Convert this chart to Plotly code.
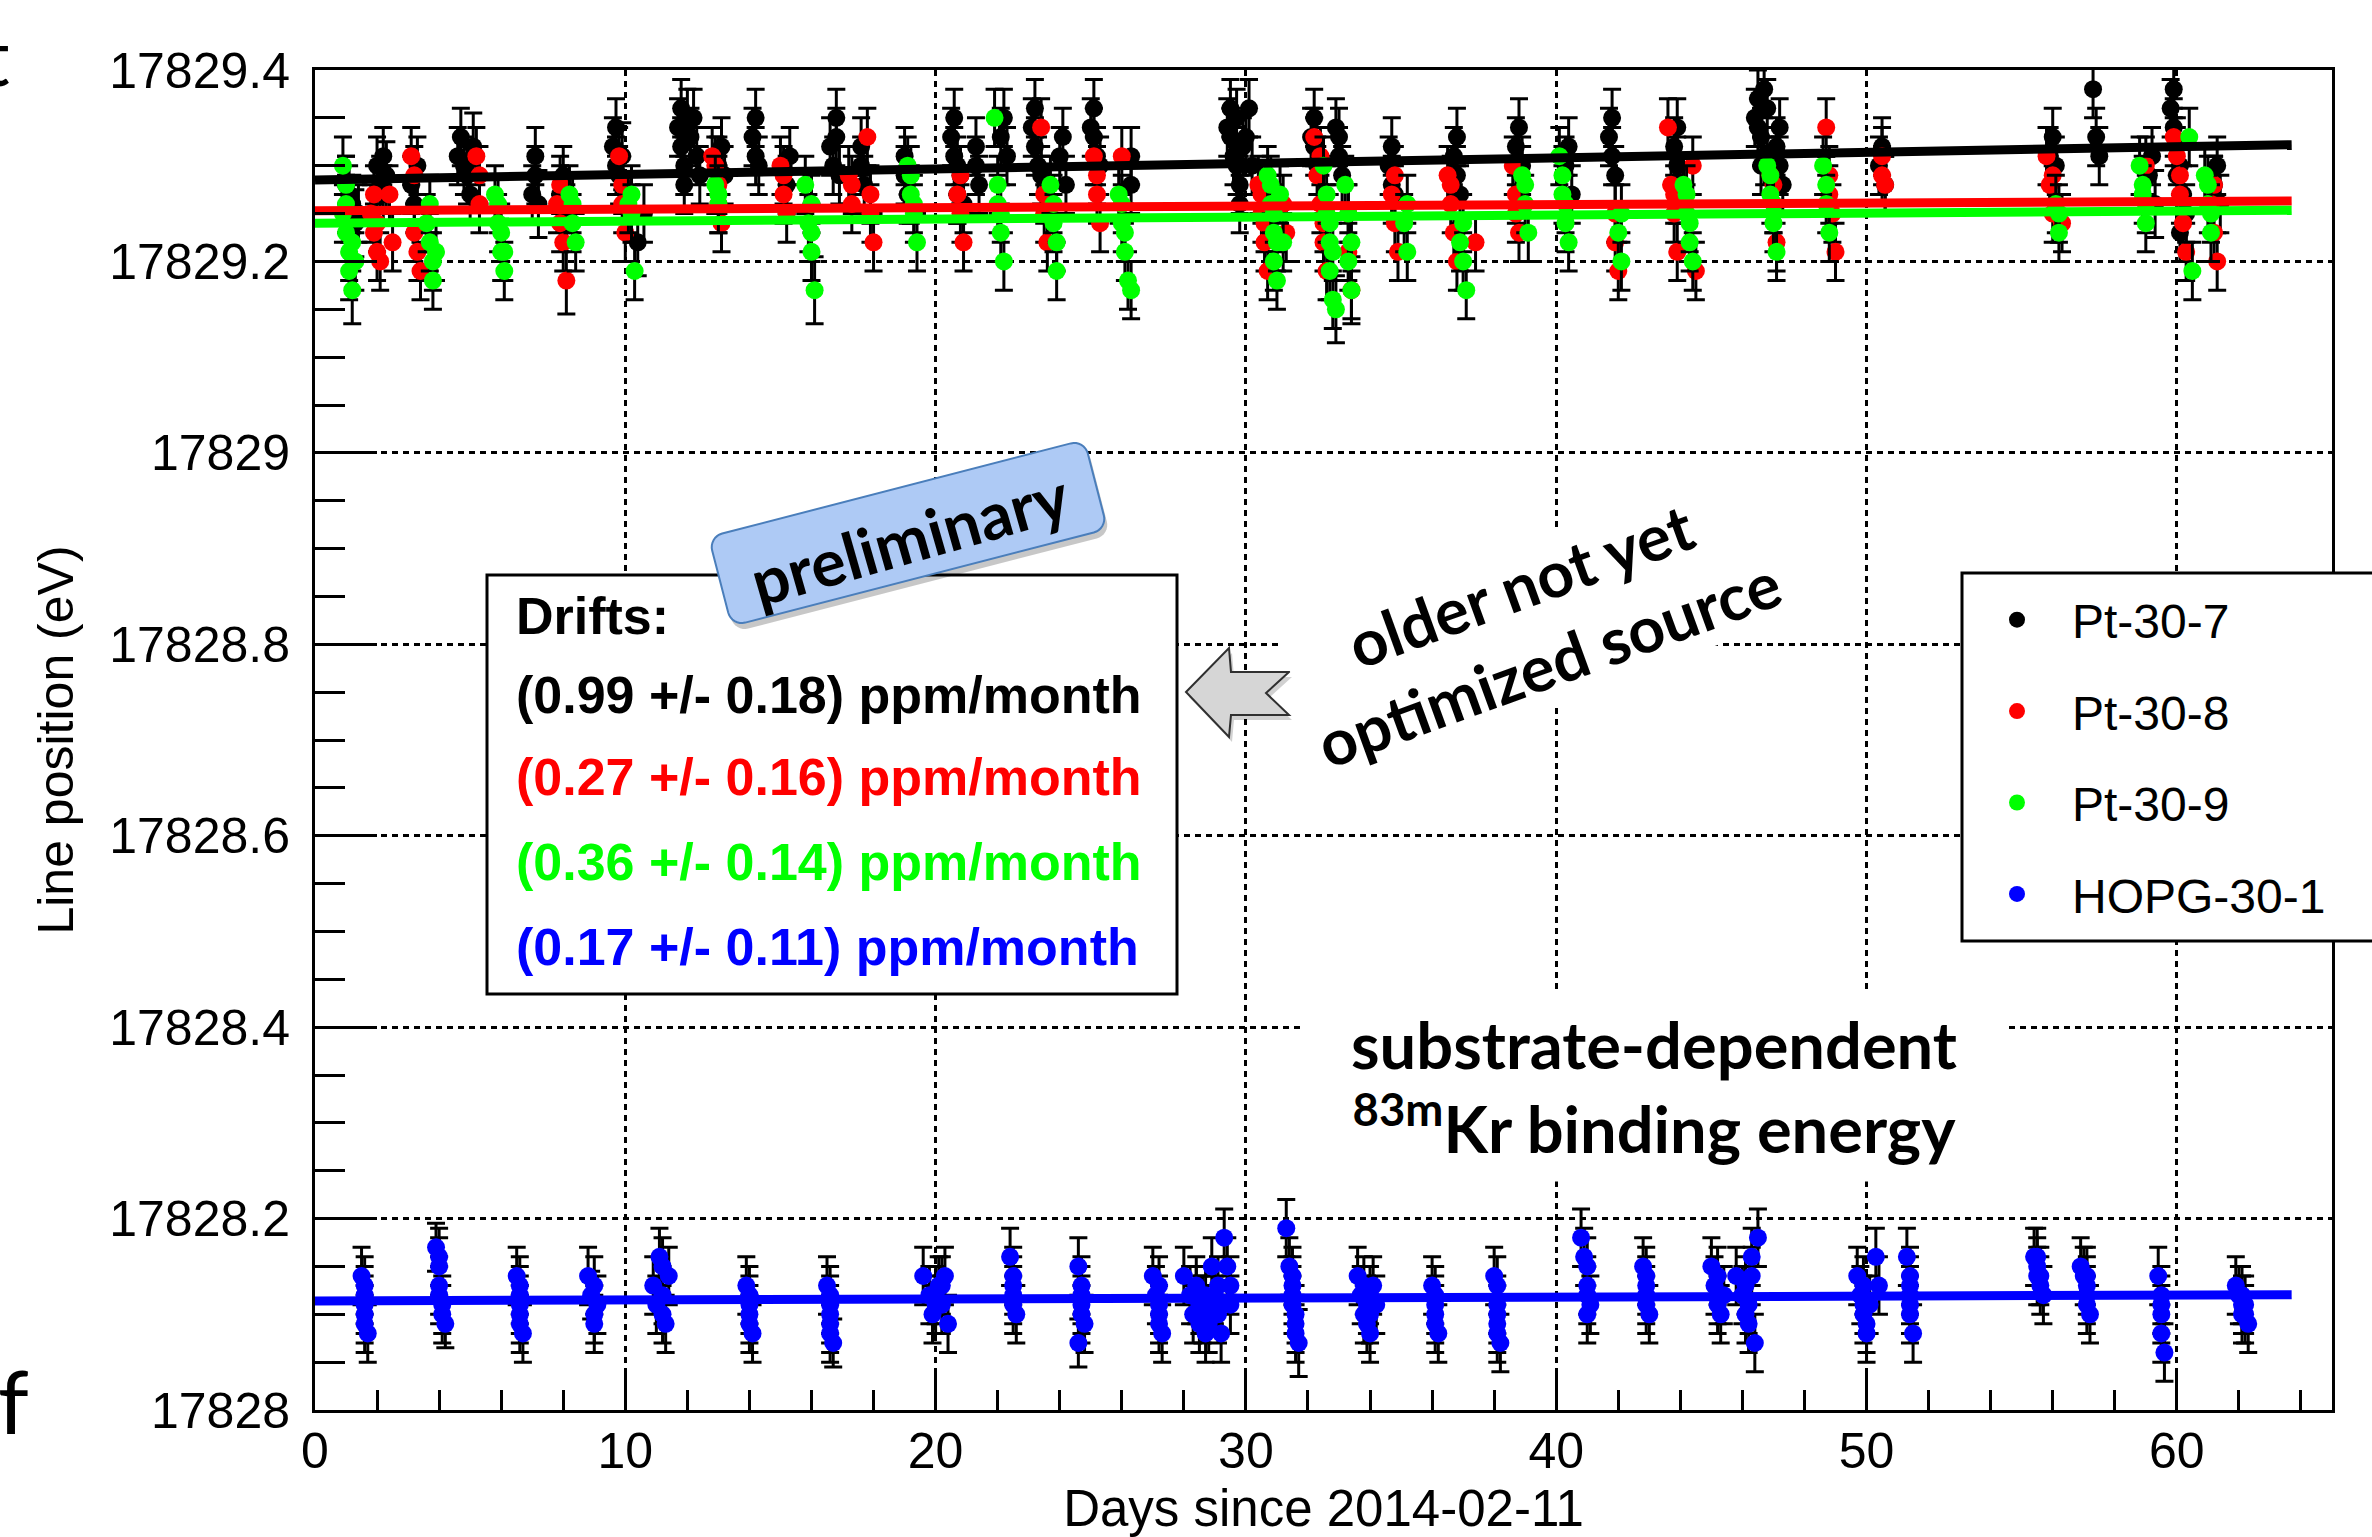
import math
import plotly.graph_objects as go

# ------------------------------------------------------------------ data
x_tickvals = [0, 10, 20, 30, 40, 50, 60]
y_tickvals = [17828.0, 17828.2, 17828.4, 17828.6, 17828.8, 17829.0, 17829.2, 17829.4]
y_ticktext = ["17828", "17828.2", "17828.4", "17828.6", "17828.8", "17829", "17829.2", "17829.4"]

series_names = ["Pt-30-7", "Pt-30-8", "Pt-30-9", "HOPG-30-1"]
series_colors = ["#000000", "#ff0000", "#00ff00", "#0000ff"]

# linear fits: value at day 0 and drift (ppm / month)
fit_intercept = [17829.285, 17829.253, 17829.240, 17828.114]
drift_ppm_month = [0.99, 0.27, 0.36, 0.17]
drift_err = [0.18, 0.16, 0.14, 0.11]
fit_days = [0.0, 63.7]

# (day, line position [eV], error [eV])
pt_30_7 = [
    (1.0, 17829.28, 0.03), (1.1, 17829.27, 0.03), (1.2, 17829.26, 0.03), (1.3, 17829.24, 0.035), (1.4, 17829.25, 0.03),
    (2.0, 17829.30, 0.03), (2.1, 17829.28, 0.03), (2.2, 17829.27, 0.03), (2.2, 17829.31, 0.03), (2.3, 17829.29, 0.035),
    (3.1, 17829.28, 0.03), (3.2, 17829.26, 0.03), (3.3, 17829.30, 0.03),
    (4.6, 17829.31, 0.03), (4.7, 17829.33, 0.03), (4.8, 17829.30, 0.03), (4.9, 17829.29, 0.03), (5.0, 17829.27, 0.03), (5.1, 17829.32, 0.035),
    (7.0, 17829.27, 0.03), (7.1, 17829.29, 0.03), (7.1, 17829.31, 0.03), (7.2, 17829.26, 0.035),
    (7.9, 17829.27, 0.03), (8.0, 17829.29, 0.03), (8.1, 17829.25, 0.03), (8.2, 17829.26, 0.03),
    (9.6, 17829.32, 0.03), (9.7, 17829.30, 0.03), (9.7, 17829.34, 0.03), (9.8, 17829.29, 0.03), (9.9, 17829.31, 0.035),
    (10.4, 17829.22, 0.035), (10.6, 17829.25, 0.03),
    (11.7, 17829.34, 0.03), (11.8, 17829.32, 0.03), (11.8, 17829.36, 0.03), (11.9, 17829.30, 0.03), (11.9, 17829.28, 0.03),
    (12.0, 17829.35, 0.03), (12.1, 17829.33, 0.03), (12.2, 17829.35, 0.03),
    (12.3, 17829.31, 0.03), (12.4, 17829.29, 0.03),
    (13.0, 17829.30, 0.03), (13.1, 17829.32, 0.03), (13.2, 17829.29, 0.03),
    (14.1, 17829.33, 0.03), (14.2, 17829.31, 0.03), (14.2, 17829.35, 0.03), (14.3, 17829.30, 0.03),
    (15.2, 17829.28, 0.03), (15.3, 17829.31, 0.03),
    (16.6, 17829.32, 0.03), (16.7, 17829.30, 0.03), (16.8, 17829.33, 0.03), (16.8, 17829.35, 0.03), (16.9, 17829.29, 0.03),
    (17.6, 17829.30, 0.03), (17.6, 17829.32, 0.03), (17.7, 17829.28, 0.03),
    (19.0, 17829.29, 0.03), (19.0, 17829.31, 0.03), (19.1, 17829.27, 0.03),
    (20.5, 17829.33, 0.03), (20.6, 17829.31, 0.03), (20.6, 17829.35, 0.03), (20.7, 17829.30, 0.03), (20.7, 17829.27, 0.03),
    (20.8, 17829.29, 0.03), (20.9, 17829.26, 0.03),
    (21.3, 17829.30, 0.03), (21.3, 17829.32, 0.03), (21.4, 17829.28, 0.03),
    (22.1, 17829.33, 0.03), (22.2, 17829.35, 0.03), (22.3, 17829.31, 0.03),
    (23.1, 17829.34, 0.03), (23.2, 17829.32, 0.03), (23.2, 17829.36, 0.03), (23.3, 17829.30, 0.03), (23.4, 17829.29, 0.03),
    (24.0, 17829.31, 0.03), (24.1, 17829.33, 0.03), (24.2, 17829.28, 0.03),
    (25.0, 17829.34, 0.03), (25.1, 17829.33, 0.03), (25.1, 17829.36, 0.03), (25.2, 17829.31, 0.03), (25.3, 17829.30, 0.03),
    (26.3, 17829.28, 0.03), (26.3, 17829.31, 0.03),
    (29.4, 17829.34, 0.03), (29.5, 17829.33, 0.03), (29.5, 17829.36, 0.03), (29.6, 17829.31, 0.03), (29.7, 17829.30, 0.03),
    (29.7, 17829.35, 0.03), (29.8, 17829.28, 0.03), (29.8, 17829.26, 0.03), (29.9, 17829.32, 0.03),
    (30.0, 17829.33, 0.03), (30.1, 17829.36, 0.03), (30.2, 17829.30, 0.03),
    (32.1, 17829.33, 0.03), (32.2, 17829.32, 0.03), (32.2, 17829.35, 0.03), (32.3, 17829.30, 0.03),
    (32.9, 17829.34, 0.03), (33.0, 17829.31, 0.03), (33.0, 17829.33, 0.03), (33.1, 17829.29, 0.03),
    (34.6, 17829.30, 0.03), (34.7, 17829.28, 0.03), (34.7, 17829.32, 0.03), (34.8, 17829.27, 0.03),
    (36.7, 17829.31, 0.03), (36.8, 17829.29, 0.03), (36.8, 17829.33, 0.03), (36.9, 17829.27, 0.03),
    (38.7, 17829.32, 0.03), (38.8, 17829.34, 0.03), (38.9, 17829.30, 0.03),
    (40.3, 17829.30, 0.03), (40.4, 17829.32, 0.03), (40.5, 17829.27, 0.03),
    (41.7, 17829.33, 0.03), (41.8, 17829.31, 0.03), (41.8, 17829.35, 0.03), (41.9, 17829.29, 0.03),
    (43.8, 17829.32, 0.03), (43.9, 17829.30, 0.03), (43.9, 17829.34, 0.03), (44.0, 17829.28, 0.03), (44.1, 17829.27, 0.03),
    (46.4, 17829.35, 0.03), (46.5, 17829.34, 0.03), (46.5, 17829.37, 0.03), (46.6, 17829.33, 0.03), (46.6, 17829.30, 0.03),
    (46.7, 17829.31, 0.03), (46.7, 17829.38, 0.03), (46.8, 17829.36, 0.03),
    (47.1, 17829.32, 0.03), (47.2, 17829.30, 0.03), (47.2, 17829.34, 0.03), (47.3, 17829.28, 0.03),
    (50.4, 17829.30, 0.03), (50.5, 17829.32, 0.03), (50.6, 17829.28, 0.03),
    (55.9, 17829.31, 0.03), (56.0, 17829.33, 0.03), (56.1, 17829.30, 0.03),
    (57.3, 17829.38, 0.03), (57.4, 17829.33, 0.03), (57.5, 17829.31, 0.03),
    (59.1, 17829.29, 0.03), (59.2, 17829.31, 0.03), (59.3, 17829.26, 0.035),
    (59.8, 17829.36, 0.03), (59.9, 17829.34, 0.03), (59.9, 17829.38, 0.03), (60.0, 17829.32, 0.03), (60.0, 17829.29, 0.03),
    (60.1, 17829.30, 0.03), (60.1, 17829.23, 0.03), (60.2, 17829.27, 0.03), (60.3, 17829.25, 0.03),
    (61.2, 17829.28, 0.03), (61.3, 17829.30, 0.03), (61.4, 17829.26, 0.03),
]

pt_30_8 = [
    (1.8, 17829.25, 0.03), (1.9, 17829.23, 0.03), (1.9, 17829.27, 0.03), (2.0, 17829.21, 0.03), (2.0, 17829.24, 0.03), (2.1, 17829.20, 0.03),
    (2.4, 17829.27, 0.03), (2.5, 17829.22, 0.03),
    (3.1, 17829.31, 0.03), (3.2, 17829.29, 0.03), (3.2, 17829.23, 0.03), (3.3, 17829.21, 0.03), (3.4, 17829.19, 0.03),
    (5.2, 17829.31, 0.03), (5.3, 17829.26, 0.03), (5.3, 17829.29, 0.03),
    (7.8, 17829.26, 0.03), (7.9, 17829.24, 0.03), (7.9, 17829.28, 0.03), (8.0, 17829.22, 0.03), (8.1, 17829.18, 0.035),
    (9.8, 17829.31, 0.03), (9.9, 17829.26, 0.03), (9.9, 17829.28, 0.03), (10.0, 17829.23, 0.03),
    (12.8, 17829.31, 0.03), (12.9, 17829.30, 0.03), (13.0, 17829.26, 0.03), (13.0, 17829.28, 0.03), (13.1, 17829.24, 0.03),
    (15.0, 17829.30, 0.03), (15.1, 17829.27, 0.03), (15.1, 17829.29, 0.03), (15.2, 17829.25, 0.03),
    (17.2, 17829.29, 0.03), (17.3, 17829.26, 0.03), (17.3, 17829.28, 0.03),
    (17.8, 17829.33, 0.03), (17.9, 17829.25, 0.03), (17.9, 17829.27, 0.03), (18.0, 17829.22, 0.03),
    (20.7, 17829.27, 0.03), (20.8, 17829.25, 0.03), (20.8, 17829.29, 0.03), (20.9, 17829.22, 0.03),
    (23.4, 17829.34, 0.03), (23.5, 17829.27, 0.03), (23.5, 17829.25, 0.03), (23.6, 17829.22, 0.03),
    (25.1, 17829.31, 0.03), (25.2, 17829.27, 0.03), (25.2, 17829.29, 0.03), (25.3, 17829.24, 0.03),
    (26.0, 17829.31, 0.03),
    (30.4, 17829.28, 0.03), (30.5, 17829.25, 0.03), (30.5, 17829.27, 0.03), (30.6, 17829.22, 0.03), (30.6, 17829.24, 0.03), (30.7, 17829.19, 0.03),
    (31.2, 17829.26, 0.03), (31.3, 17829.23, 0.03),
    (32.2, 17829.33, 0.03), (32.3, 17829.29, 0.03), (32.4, 17829.26, 0.03), (32.4, 17829.31, 0.03), (32.5, 17829.22, 0.03),
    (32.5, 17829.24, 0.03), (32.6, 17829.19, 0.03),
    (33.3, 17829.25, 0.03), (33.3, 17829.21, 0.03), (33.4, 17829.17, 0.035),
    (34.7, 17829.27, 0.03), (34.8, 17829.24, 0.03), (34.8, 17829.29, 0.03), (34.9, 17829.21, 0.03),
    (36.5, 17829.29, 0.03), (36.6, 17829.26, 0.03), (36.6, 17829.28, 0.03), (36.7, 17829.23, 0.03), (36.8, 17829.20, 0.03),
    (37.4, 17829.22, 0.03),
    (38.6, 17829.30, 0.03), (38.7, 17829.27, 0.03), (38.7, 17829.25, 0.03), (38.8, 17829.23, 0.03),
    (41.9, 17829.22, 0.03), (41.9, 17829.25, 0.03), (42.0, 17829.19, 0.03),
    (43.6, 17829.34, 0.03), (43.7, 17829.28, 0.03), (43.8, 17829.25, 0.03), (43.8, 17829.27, 0.03), (43.9, 17829.21, 0.03),
    (44.4, 17829.30, 0.03), (44.5, 17829.19, 0.03),
    (46.9, 17829.29, 0.03), (47.0, 17829.26, 0.03), (47.0, 17829.28, 0.03), (47.1, 17829.22, 0.03),
    (48.7, 17829.34, 0.03), (48.8, 17829.29, 0.03), (48.8, 17829.27, 0.03), (48.9, 17829.25, 0.03), (49.0, 17829.21, 0.03),
    (50.5, 17829.31, 0.03), (50.5, 17829.29, 0.03), (50.6, 17829.28, 0.03),
    (55.8, 17829.31, 0.03), (55.9, 17829.28, 0.03), (56.0, 17829.25, 0.03), (56.0, 17829.29, 0.03),
    (56.3, 17829.24, 0.03),
    (59.0, 17829.30, 0.03),
    (59.9, 17829.33, 0.03), (60.0, 17829.31, 0.03), (60.1, 17829.27, 0.03), (60.1, 17829.29, 0.03), (60.2, 17829.24, 0.03), (60.3, 17829.21, 0.03),
    (61.1, 17829.26, 0.03), (61.2, 17829.23, 0.03), (61.2, 17829.28, 0.03), (61.3, 17829.20, 0.03),
]

pt_30_9 = [
    (0.9, 17829.30, 0.03), (0.9, 17829.25, 0.03), (1.0, 17829.26, 0.03), (1.0, 17829.28, 0.03), (1.0, 17829.23, 0.03),
    (1.1, 17829.21, 0.03), (1.1, 17829.19, 0.03), (1.2, 17829.17, 0.035), (1.2, 17829.22, 0.03), (1.3, 17829.20, 0.03),
    (3.6, 17829.24, 0.03), (3.7, 17829.22, 0.03), (3.7, 17829.26, 0.03), (3.8, 17829.20, 0.03), (3.8, 17829.18, 0.03), (3.9, 17829.21, 0.03),
    (5.8, 17829.27, 0.03), (5.9, 17829.24, 0.03), (5.9, 17829.26, 0.03), (6.0, 17829.21, 0.03), (6.0, 17829.23, 0.03),
    (6.1, 17829.19, 0.03), (6.1, 17829.21, 0.03),
    (8.2, 17829.27, 0.03), (8.3, 17829.24, 0.03), (8.3, 17829.26, 0.03), (8.4, 17829.22, 0.03),
    (10.1, 17829.26, 0.03), (10.2, 17829.25, 0.03), (10.2, 17829.27, 0.03), (10.3, 17829.19, 0.03),
    (12.9, 17829.28, 0.03), (13.0, 17829.26, 0.03), (13.0, 17829.27, 0.03),
    (15.8, 17829.28, 0.03), (15.9, 17829.24, 0.03), (16.0, 17829.21, 0.03), (16.0, 17829.26, 0.03), (16.0, 17829.23, 0.03), (16.1, 17829.17, 0.035),
    (19.1, 17829.30, 0.03), (19.2, 17829.27, 0.03), (19.2, 17829.29, 0.03), (19.3, 17829.25, 0.03), (19.3, 17829.26, 0.03), (19.4, 17829.22, 0.03),
    (21.9, 17829.35, 0.03), (22.0, 17829.28, 0.03), (22.0, 17829.26, 0.03), (22.1, 17829.25, 0.03), (22.1, 17829.23, 0.03), (22.2, 17829.20, 0.03),
    (23.7, 17829.28, 0.03), (23.8, 17829.24, 0.03), (23.8, 17829.26, 0.03), (23.9, 17829.19, 0.03), (23.9, 17829.22, 0.03),
    (25.9, 17829.27, 0.03), (26.0, 17829.24, 0.03), (26.0, 17829.26, 0.03), (26.1, 17829.21, 0.03), (26.1, 17829.23, 0.03),
    (26.2, 17829.18, 0.03), (26.3, 17829.17, 0.03),
    (30.7, 17829.29, 0.03), (30.8, 17829.26, 0.03), (30.8, 17829.28, 0.03), (30.9, 17829.23, 0.03), (30.9, 17829.25, 0.03),
    (30.9, 17829.20, 0.03), (31.0, 17829.18, 0.03), (31.0, 17829.22, 0.03),
    (31.1, 17829.27, 0.03), (31.2, 17829.22, 0.03),
    (32.5, 17829.30, 0.03), (32.6, 17829.25, 0.03), (32.6, 17829.27, 0.03), (32.7, 17829.22, 0.03), (32.7, 17829.24, 0.03),
    (32.7, 17829.19, 0.03), (32.8, 17829.16, 0.03), (32.8, 17829.21, 0.03), (32.9, 17829.15, 0.035),
    (33.2, 17829.28, 0.03), (33.3, 17829.20, 0.03), (33.3, 17829.25, 0.03), (33.4, 17829.17, 0.03), (33.4, 17829.22, 0.03),
    (35.1, 17829.24, 0.03), (35.2, 17829.21, 0.03), (35.2, 17829.26, 0.03),
    (36.9, 17829.22, 0.03), (37.0, 17829.20, 0.03), (37.0, 17829.24, 0.03), (37.1, 17829.17, 0.03),
    (38.9, 17829.29, 0.03), (39.0, 17829.26, 0.03), (39.0, 17829.28, 0.03), (39.1, 17829.23, 0.03),
    (40.1, 17829.31, 0.03), (40.2, 17829.27, 0.03), (40.2, 17829.29, 0.03), (40.3, 17829.24, 0.03), (40.3, 17829.26, 0.03), (40.4, 17829.22, 0.03),
    (42.0, 17829.23, 0.03), (42.1, 17829.20, 0.03), (42.1, 17829.25, 0.03),
    (44.1, 17829.28, 0.03), (44.2, 17829.25, 0.03), (44.2, 17829.27, 0.03), (44.3, 17829.22, 0.03), (44.3, 17829.24, 0.03), (44.4, 17829.20, 0.03),
    (46.8, 17829.30, 0.03), (46.9, 17829.27, 0.03), (46.9, 17829.29, 0.03), (47.0, 17829.24, 0.03), (47.0, 17829.26, 0.03), (47.1, 17829.21, 0.03),
    (48.6, 17829.30, 0.03), (48.7, 17829.26, 0.03), (48.7, 17829.28, 0.03), (48.8, 17829.23, 0.03),
    (56.1, 17829.26, 0.03), (56.2, 17829.23, 0.03), (56.2, 17829.25, 0.03),
    (58.8, 17829.30, 0.03), (58.9, 17829.27, 0.03), (58.9, 17829.28, 0.03), (59.0, 17829.24, 0.03), (59.0, 17829.26, 0.03),
    (60.4, 17829.33, 0.03), (60.5, 17829.19, 0.03),
    (60.9, 17829.29, 0.03), (61.0, 17829.26, 0.03), (61.0, 17829.28, 0.03), (61.1, 17829.23, 0.03), (61.1, 17829.25, 0.03),
]

hopg_30_1 = [
    (1.5, 17828.14, 0.03), (1.6, 17828.12, 0.03), (1.6, 17828.13, 0.03), (1.6, 17828.11, 0.03), (1.6, 17828.10, 0.03),
    (1.6, 17828.09, 0.03), (1.7, 17828.08, 0.03),
    (3.9, 17828.17, 0.025), (4.0, 17828.15, 0.03), (4.0, 17828.16, 0.03), (4.0, 17828.12, 0.03), (4.0, 17828.13, 0.03),
    (4.1, 17828.10, 0.03), (4.1, 17828.11, 0.03), (4.2, 17828.09, 0.025),
    (6.5, 17828.14, 0.03), (6.6, 17828.12, 0.03), (6.6, 17828.13, 0.03), (6.6, 17828.10, 0.03), (6.6, 17828.11, 0.03),
    (6.6, 17828.09, 0.03), (6.7, 17828.08, 0.03),
    (8.8, 17828.14, 0.03), (8.9, 17828.12, 0.025), (9.0, 17828.13, 0.03), (9.0, 17828.09, 0.03), (9.0, 17828.10, 0.03), (9.1, 17828.11, 0.03),
    (10.9, 17828.13, 0.03), (11.0, 17828.11, 0.03), (11.1, 17828.16, 0.03), (11.2, 17828.15, 0.03), (11.2, 17828.12, 0.03),
    (11.2, 17828.10, 0.03), (11.3, 17828.09, 0.03), (11.4, 17828.14, 0.03),
    (13.9, 17828.13, 0.03), (14.0, 17828.11, 0.03), (14.0, 17828.12, 0.03), (14.0, 17828.10, 0.03), (14.0, 17828.09, 0.03), (14.1, 17828.08, 0.03),
    (16.5, 17828.13, 0.03), (16.6, 17828.11, 0.03), (16.6, 17828.12, 0.03), (16.6, 17828.10, 0.03), (16.6, 17828.09, 0.03),
    (16.6, 17828.08, 0.03), (16.7, 17828.07, 0.025),
    (19.6, 17828.14, 0.03), (19.8, 17828.12, 0.03), (19.9, 17828.10, 0.03), (20.0, 17828.12, 0.03), (20.0, 17828.11, 0.03),
    (20.1, 17828.13, 0.03), (20.2, 17828.11, 0.03), (20.2, 17828.13, 0.03), (20.3, 17828.14, 0.03), (20.4, 17828.09, 0.03),
    (22.4, 17828.16, 0.03), (22.5, 17828.14, 0.03), (22.5, 17828.12, 0.03), (22.5, 17828.13, 0.03), (22.5, 17828.11, 0.03), (22.6, 17828.10, 0.03),
    (24.6, 17828.15, 0.03), (24.7, 17828.13, 0.03), (24.7, 17828.11, 0.03), (24.7, 17828.12, 0.03), (24.7, 17828.10, 0.03),
    (24.8, 17828.09, 0.03), (24.6, 17828.07, 0.025),
    (27.0, 17828.14, 0.03), (27.1, 17828.12, 0.03), (27.2, 17828.13, 0.03), (27.2, 17828.10, 0.03), (27.2, 17828.11, 0.03),
    (27.2, 17828.09, 0.03), (27.3, 17828.08, 0.03),
    (28.0, 17828.14, 0.03), (28.2, 17828.12, 0.03), (28.3, 17828.10, 0.03), (28.4, 17828.13, 0.03), (28.4, 17828.12, 0.03),
    (28.5, 17828.09, 0.03), (28.5, 17828.11, 0.03), (28.6, 17828.11, 0.03), (28.6, 17828.10, 0.03), (28.7, 17828.08, 0.03),
    (28.7, 17828.12, 0.03), (28.8, 17828.09, 0.03),
    (28.9, 17828.15, 0.03), (29.0, 17828.12, 0.03), (29.0, 17828.11, 0.03), (29.1, 17828.10, 0.03), (29.1, 17828.13, 0.03), (29.2, 17828.08, 0.03),
    (29.3, 17828.18, 0.03), (29.4, 17828.15, 0.03), (29.5, 17828.13, 0.03), (29.5, 17828.11, 0.03),
    (31.3, 17828.19, 0.03), (31.4, 17828.15, 0.03), (31.5, 17828.13, 0.03), (31.5, 17828.14, 0.03), (31.5, 17828.11, 0.03),
    (31.5, 17828.12, 0.03), (31.6, 17828.09, 0.03), (31.6, 17828.10, 0.03), (31.6, 17828.08, 0.03), (31.7, 17828.07, 0.035),
    (33.6, 17828.14, 0.03), (33.7, 17828.12, 0.03), (33.8, 17828.10, 0.03), (33.8, 17828.13, 0.03), (33.9, 17828.09, 0.03),
    (33.9, 17828.11, 0.03), (34.0, 17828.08, 0.03), (34.0, 17828.10, 0.03), (34.0, 17828.12, 0.03), (34.1, 17828.13, 0.03), (34.2, 17828.11, 0.03),
    (36.0, 17828.13, 0.03), (36.1, 17828.11, 0.03), (36.1, 17828.12, 0.03), (36.1, 17828.09, 0.03), (36.1, 17828.10, 0.03), (36.2, 17828.08, 0.03),
    (38.0, 17828.14, 0.03), (38.1, 17828.11, 0.03), (38.1, 17828.13, 0.03), (38.1, 17828.09, 0.03), (38.1, 17828.10, 0.03),
    (38.1, 17828.08, 0.03), (38.2, 17828.07, 0.03),
    (40.8, 17828.18, 0.03), (40.9, 17828.16, 0.03), (41.0, 17828.13, 0.03), (41.0, 17828.15, 0.03), (41.0, 17828.12, 0.03),
    (41.0, 17828.10, 0.03), (41.1, 17828.11, 0.03),
    (42.8, 17828.15, 0.03), (42.9, 17828.13, 0.03), (42.9, 17828.14, 0.03), (42.9, 17828.11, 0.03), (42.9, 17828.12, 0.03), (43.0, 17828.10, 0.03),
    (45.0, 17828.15, 0.03), (45.1, 17828.13, 0.03), (45.2, 17828.11, 0.03), (45.2, 17828.14, 0.03), (45.2, 17828.12, 0.03),
    (45.3, 17828.10, 0.03), (45.4, 17828.12, 0.03),
    (45.8, 17828.14, 0.03), (46.0, 17828.12, 0.03), (46.1, 17828.10, 0.03), (46.1, 17828.13, 0.03), (46.2, 17828.09, 0.03),
    (46.2, 17828.11, 0.03), (46.3, 17828.16, 0.03), (46.3, 17828.14, 0.03), (46.5, 17828.18, 0.03), (46.4, 17828.07, 0.03),
    (49.7, 17828.14, 0.03), (49.8, 17828.12, 0.03), (49.9, 17828.10, 0.03), (49.9, 17828.13, 0.03), (49.9, 17828.11, 0.03),
    (50.0, 17828.08, 0.03), (50.0, 17828.09, 0.03), (50.1, 17828.11, 0.03),
    (50.3, 17828.16, 0.03), (50.4, 17828.13, 0.03),
    (51.3, 17828.16, 0.03), (51.4, 17828.13, 0.03), (51.4, 17828.14, 0.03), (51.4, 17828.12, 0.03), (51.4, 17828.11, 0.03),
    (51.4, 17828.10, 0.03), (51.5, 17828.08, 0.03),
    (55.4, 17828.16, 0.03), (55.5, 17828.15, 0.03), (55.5, 17828.16, 0.03), (55.5, 17828.14, 0.03), (55.6, 17828.13, 0.03),
    (55.6, 17828.14, 0.03), (55.7, 17828.12, 0.03),
    (56.9, 17828.15, 0.03), (57.0, 17828.14, 0.03), (57.1, 17828.13, 0.03), (57.1, 17828.14, 0.03), (57.1, 17828.12, 0.03),
    (57.1, 17828.11, 0.03), (57.2, 17828.10, 0.03),
    (59.4, 17828.14, 0.03), (59.5, 17828.12, 0.03), (59.5, 17828.11, 0.03), (59.5, 17828.10, 0.03), (59.5, 17828.08, 0.03), (59.6, 17828.06, 0.03),
    (61.9, 17828.13, 0.03), (62.0, 17828.12, 0.03), (62.1, 17828.11, 0.03), (62.1, 17828.12, 0.03), (62.1, 17828.10, 0.03),
    (62.2, 17828.10, 0.03), (62.2, 17828.11, 0.03), (62.3, 17828.09, 0.03),
]

all_series = [pt_30_7, pt_30_8, pt_30_9, hopg_30_1]

# ------------------------------------------------------------------ layout helpers (reference pixel -> paper)
W, H = 2372, 1537
X0, X1, Y0, Y1 = 315, 2332, 70, 1410


def px(x):
    return (x - X0) / (X1 - X0)


def py(y):
    return (Y1 - y) / (Y1 - Y0)


def path_from_pixels(points):
    return "M " + " L ".join(f"{px(x):.5f},{py(y):.5f}" for x, y in points) + " Z"


def rounded_rotated_rect(cx, cy, w, h, r, ang_deg, n=8):
    a = math.radians(ang_deg)
    ux, uy = math.cos(a), -math.sin(a)
    vx, vy = math.sin(a), math.cos(a)
    hw, hh = w / 2 - r, h / 2 - r
    corners = [(hw, -hh, -90), (hw, hh, 0), (-hw, hh, 90), (-hw, -hh, 180)]
    pts = []
    for ccx, ccy, t0 in corners:
        for k in range(n + 1):
            t = math.radians(t0 + 90 * k / n)
            lx = ccx + r * math.cos(t)
            ly = ccy + r * math.sin(t)
            pts.append((cx + lx * ux + ly * vx, cy + lx * uy + ly * vy))
    return pts


AXFONT = "Liberation Sans, Arial, Helvetica, sans-serif"
CALFONT = "Lato, Open Sans, sans-serif"

fig = go.Figure()

# data points with error bars
for name, color, data in zip(series_names, series_colors, all_series):
    fig.add_trace(go.Scatter(
        x=[d[0] for d in data],
        y=[d[1] for d in data],
        error_y=dict(type="data", array=[d[2] for d in data], color="black", thickness=3, width=9),
        mode="markers",
        marker=dict(color=color, size=18),
        name=name,
        legendgroup=name,
    ))

# fit lines
for name, color, a, drift in zip(series_names, series_colors, fit_intercept, drift_ppm_month):
    slope = drift * 1e-6 * a / 30.44  # eV per day
    fig.add_trace(go.Scatter(
        x=fit_days,
        y=[a + slope * t for t in fit_days],
        mode="lines",
        line=dict(color=color, width=9),
        showlegend=False,
        hoverinfo="skip",
    ))

# ------------------------------------------------------------------ shapes
shapes = []
# legend frame (runs off the right edge like the reference)
shapes.append(dict(type="rect", xref="paper", yref="paper",
                   x0=px(1962), x1=px(2400), y0=py(941), y1=py(573),
                   line=dict(color="black", width=3), fillcolor="white", layer="above"))
# drifts box
shapes.append(dict(type="rect", xref="paper", yref="paper",
                   x0=px(487), x1=px(1177), y0=py(994), y1=py(575),
                   line=dict(color="black", width=3), fillcolor="white", layer="above"))
# preliminary label (shadow + box)
shadow = [(x + 3, y + 6) for x, y in rounded_rotated_rect(908, 533, 388, 92, 14, 14.5)]
shapes.append(dict(type="path", xref="paper", yref="paper", path=path_from_pixels(shadow),
                   line=dict(width=0), fillcolor="rgba(0,0,0,0.22)", layer="above"))
shapes.append(dict(type="path", xref="paper", yref="paper",
                   path=path_from_pixels(rounded_rotated_rect(908, 533, 388, 92, 14, 14.5)),
                   line=dict(color="#4a7ebb", width=2), fillcolor="#aecaf5", layer="above"))
# grey block arrow
arrow = [(1186, 692), (1229, 648), (1231, 672), (1289, 672), (1266, 693),
         (1289, 715), (1231, 715), (1229, 737)]
shapes.append(dict(type="path", xref="paper", yref="paper",
                   path=path_from_pixels([(x + 3, y + 5) for x, y in arrow]),
                   line=dict(width=0), fillcolor="rgba(0,0,0,0.18)", layer="above"))
shapes.append(dict(type="path", xref="paper", yref="paper", path=path_from_pixels(arrow),
                   line=dict(color="#303030", width=2), fillcolor="#d6d6d6", layer="above"))

# ------------------------------------------------------------------ annotations
ann = []
drift_fs = 52
baselines = [634, 713, 795, 880, 965]
ann.append(dict(text="<b>Drifts:</b>", x=px(514), y=py(baselines[0] - 0.35 * drift_fs),
                xref="paper", yref="paper", xanchor="left", yanchor="middle", showarrow=False,
                font=dict(family=AXFONT, size=drift_fs, color="black")))
for i, (d, e, c) in enumerate(zip(drift_ppm_month, drift_err, series_colors)):
    ann.append(dict(text=f"<b>({d:.2f} +/- {e:.2f}) ppm/month</b>",
                    x=px(514), y=py(baselines[i + 1] - 0.35 * drift_fs),
                    xref="paper", yref="paper", xanchor="left", yanchor="middle", showarrow=False,
                    font=dict(family=AXFONT, size=drift_fs, color=c)))

ann.append(dict(text="<b>preliminary</b>", x=px(909), y=py(538), xref="paper", yref="paper",
                xanchor="center", yanchor="middle", showarrow=False, textangle=-16,
                font=dict(family=CALFONT, size=65, color="black")))

ann.append(dict(text="<b>older not yet<br>optimized source</b>", x=px(1534), y=py(624),
                xref="paper", yref="paper", xanchor="center", yanchor="middle", showarrow=False,
                textangle=-20, bgcolor="white", borderpad=2,
                font=dict(family=CALFONT, size=64, color="black")))

ann.append(dict(text="<b>substrate-dependent<br><sup>83m</sup>Kr binding energy</b>",
                x=px(1654), y=py(1086), xref="paper", yref="paper",
                xanchor="center", yanchor="middle", showarrow=False,
                bgcolor="white", width=700, height=190, borderpad=0,
                font=dict(family=CALFONT, size=65, color="black")))

# slide fragments at the left edge
ann.append(dict(text="t", x=px(12), y=py(55), xref="paper", yref="paper", xanchor="right",
                yanchor="middle", showarrow=False, font=dict(family=CALFONT, size=80, color="black")))
ann.append(dict(text="f", x=px(-4), y=py(1400), xref="paper", yref="paper", xanchor="left",
                yanchor="middle", showarrow=False, font=dict(family=CALFONT, size=88, color="black")))

fig.update_layout(
    width=W, height=H,
    margin=dict(l=X0, r=W - X1, t=Y0, b=H - Y1, autoexpand=False),
    paper_bgcolor="white", plot_bgcolor="white",
    font=dict(family=AXFONT, size=50, color="black"),
    showlegend=True,
    legend=dict(x=px(1962), y=py(582), xanchor="left", yanchor="top",
                bgcolor="rgba(0,0,0,0)", borderwidth=0,
                font=dict(family=AXFONT, size=48, color="black"),
                itemwidth=100, tracegroupgap=26, traceorder="grouped"),
    shapes=shapes,
    annotations=ann,
)

fig.update_xaxes(
    range=[0, 65], tickvals=x_tickvals, ticks="inside", ticklen=40, tickwidth=3, tickcolor="black",
    minor=dict(dtick=2, ticklen=20, tickwidth=3, tickcolor="black", ticks="inside", showgrid=False),
    showgrid=True, gridcolor="black", gridwidth=2.5, griddash="6px,5px",
    showline=True, linecolor="black", linewidth=3, mirror=True, zeroline=False,
    tickfont=dict(family=AXFONT, size=50), ticklabelstandoff=-5,
    title=dict(text="Days since 2014-02-11", font=dict(family=AXFONT, size=51), standoff=50),
)
fig.update_yaxes(
    range=[17828, 17829.4], tickvals=y_tickvals, ticktext=y_ticktext,
    ticks="inside", ticklen=62, tickwidth=3, tickcolor="black",
    minor=dict(dtick=0.05, tick0=17828, ticklen=30, tickwidth=3, tickcolor="black", ticks="inside", showgrid=False),
    showgrid=True, gridcolor="black", gridwidth=2.5, griddash="6px,5px",
    showline=True, linecolor="black", linewidth=3, mirror=True, zeroline=False,
    tickfont=dict(family=AXFONT, size=50), ticklabelstandoff=12,
    title=dict(text="Line position (eV)", font=dict(family=AXFONT, size=50), standoff=20),
)

fig.write_html("out.html", config={"displayModeBar": False})
